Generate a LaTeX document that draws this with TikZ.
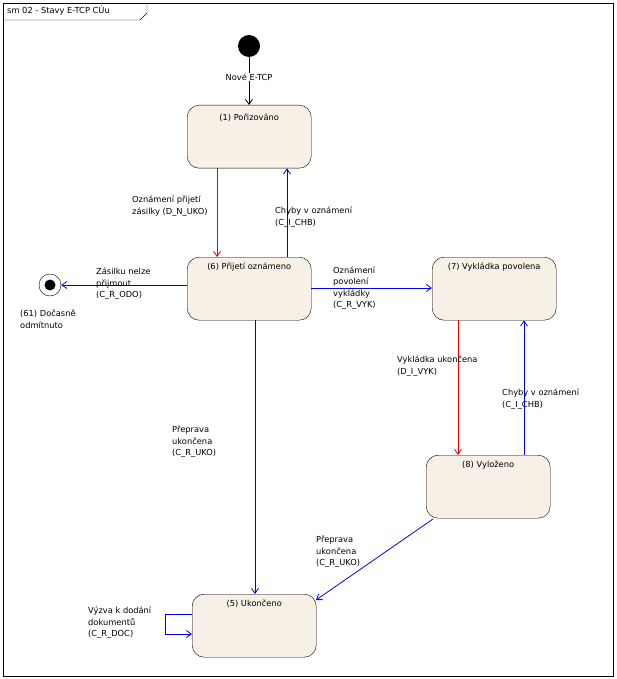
\documentclass[tikz,border=0pt]{standalone}
\usepackage{fontspec}
\setmainfont{DejaVu Sans}
\usetikzlibrary{arrows.meta}
\definecolor{stavfill}{RGB}{247,240,230}
\definecolor{modra}{RGB}{0,0,230}
\definecolor{cervena}{RGB}{230,0,0}
\begin{document}
\begin{tikzpicture}[x=1pt,y=-1pt,font=\fontsize{8.3}{11.5}\selectfont]
% Styles
\tikzset{stav/.style={draw,fill=stavfill,rounded corners=12pt,minimum width=124pt,minimum height=63pt,anchor=north west,inner sep=0pt},
  prechod/.style={-{Straight Barb[length=5pt,width=7pt]},line width=0.8pt},
  popis/.style={align=left,inner sep=0pt,anchor=west}}
\useasboundingbox (0,0) rectangle (617,679);
% Frame
\draw (3,3) rectangle (613,676);
\draw (3,20) -- (140,20) -- (147,13) -- (147,3);
\node[anchor=west,inner sep=0pt] (titulek) at (7,11) {sm 02 - Stavy E-TCP CÚu};
% States
\node[stav] (s1) at (187,105) {};
\node[anchor=north] at (s1.north) [yshift=-5pt] {(1) Pořizováno};
\node[stav] (s6) at (187,257) {};
\node[anchor=north] at (s6.north) [yshift=-2pt] {(6) Přijetí oznámeno};
\node[stav] (s7) at (432,257) {};
\node[anchor=north] at (s7.north) [yshift=-2pt] {(7) Vykládka povolena};
\node[stav] (s8) at (426,455) {};
\node[anchor=north] at (s8.north) [yshift=-2pt] {(8) Vyloženo};
\node[stav] (s5) at (192,594) {};
\node[anchor=north] at (s5.north) [yshift=-2pt] {(5) Ukončeno};
% Pseudostates
\node[circle,fill=black,minimum size=22pt,inner sep=0pt] (init) at (249,46) {};
\node[circle,draw,fill=white,minimum size=22pt,inner sep=0pt] (konec) at (50,285) {};
\fill (konec) circle (5.5pt);
\node[popis] (konecL) at (20,319) {(61) Dočasně\\odmítnuto};
% Transitions
\draw[prechod] (init) -- (s1.north -| init);
\node[fill=white,inner sep=1pt] at (249,77) {Nové E-TCP};
\draw[prechod,cervena] (s1.south -| 217,0) -- (s6.north -| 217,0);
\node[popis] at (132,206) {Oznámení přijetí\\zásilky (D\_N\_UKO)};
\draw[prechod,modra] (s6.north -| 287,0) -- (s1.south -| 287,0);
\node[popis] at (275,217) {Chyby v oznámení\\(C\_I\_CHB)};
\draw[prechod,modra] (s6.west |- 0,285) -- (konec);
\node[popis] at (96,284) {Zásilku nelze\\přijmout\\(C\_R\_ODO)};
\draw[prechod,modra] (s6.east |- 0,288) -- (s7.west |- 0,288);
\node[popis] at (333,288) {Oznámení\\povolení\\vykládky\\(C\_R\_VYK)};
\draw[prechod,cervena] (s7.south -| 458,0) -- (s8.north -| 458,0);
\node[popis] at (397,366) {Vykládka ukončena\\(D\_I\_VYK)};
\draw[prechod,modra] (s8.north -| 524,0) -- (s7.south -| 524,0);
\node[popis] at (502,399) {Chyby v oznámení\\(C\_I\_CHB)};
\draw[prechod,modra] (s6.south -| 255,0) -- (s5.north -| 255,0);
\node[popis] at (172,442) {Přeprava\\ukončena\\(C\_R\_UKO)};
\draw[prechod,modra] (433,519) -- (316,600);
\node[popis] at (316,552) {Přeprava\\ukončena\\(C\_R\_UKO)};
\draw[prechod,modra] (s5.west |- 0,614) -- (165,614) -- (165,634) -- (s5.west |- 0,634);
\node[popis] at (88,623) {Výzva k dodání\\dokumentů\\(C\_R\_DOC)};
\end{tikzpicture}
\end{document}
